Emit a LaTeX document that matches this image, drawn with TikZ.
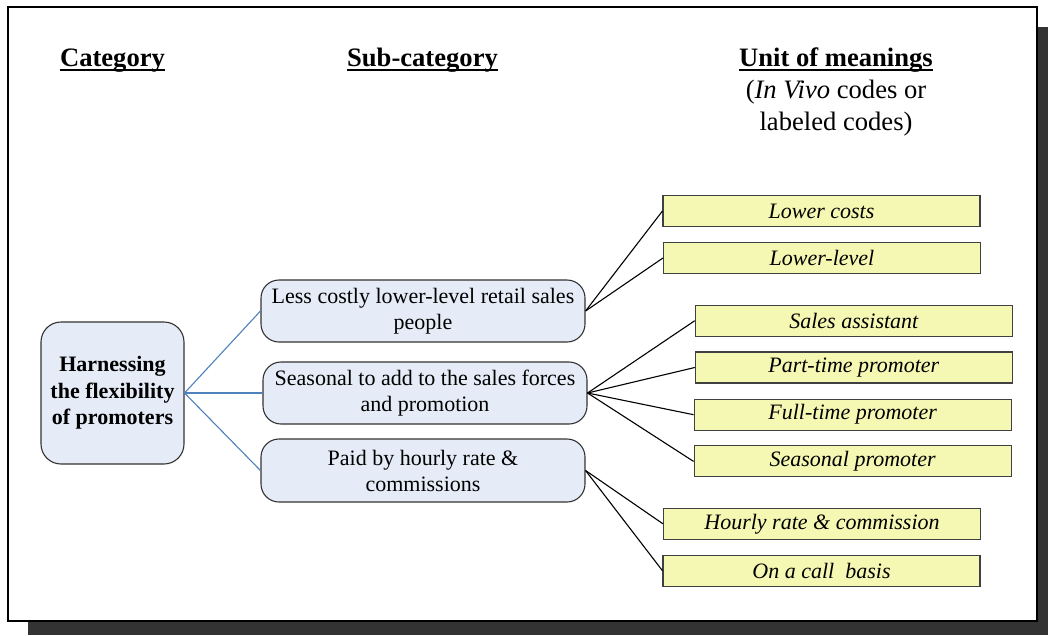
\documentclass[tikz,border=0pt]{standalone}
\usepackage{fontspec}
\setmainfont{Liberation Serif}
\definecolor{catfill}{HTML}{E5ECF7}
\definecolor{unitfill}{HTML}{F4F8B2}
\definecolor{shadowc}{HTML}{333333}
\definecolor{linkblue}{HTML}{4F81BD}
\begin{document}
\begin{tikzpicture}[x=1pt,y=-1pt,
  catbox/.style={draw=black!80, line width=1.1pt, fill=catfill, rounded corners=20pt, align=center, inner sep=0pt, font=\fontsize{22}{26.5}\selectfont\bfseries},
  subbox/.style={draw=black!80, line width=1.1pt, fill=catfill, rounded corners=18pt, align=center, inner sep=0pt, font=\fontsize{22}{26}\selectfont},
  unitbox/.style={draw=black!75, line width=1.1pt, fill=unitfill, inner sep=0pt, minimum width=317pt, minimum height=31pt, font=\fontsize{22}{26}\selectfont\itshape},
  head/.style={inner sep=0pt, anchor=base, font=\fontsize{26.6}{32}\selectfont\bfseries},
  headsub/.style={inner sep=0pt, anchor=base, font=\fontsize{26.6}{32}\selectfont},
  uline/.style={line width=1.8pt},
  bluelink/.style={draw=linkblue, line width=1.1pt},
  blacklink/.style={draw=black, line width=1.1pt}
]
\useasboundingbox (0,0) rectangle (1048,635);
% frame with shadow
\fill[shadowc] (28,27) rectangle (1048,635);
\draw[line width=2pt, fill=white] (8,7) rectangle (1037,621);

% headers
\node[head] (hcat) at (112.5,66) {Category};
\node[head] (hsub) at (422.5,66) {Sub-category};
\node[head] (hunit) at (836,66) {Unit of meanings};
\node[headsub] (hunit2) at (836,98) {(\textit{In Vivo} codes or};
\node[headsub] (hunit3) at (836,130) {labeled codes)};
\foreach \n in {hcat,hsub,hunit}
  \draw[uline] ([yshift=-3.8pt]\n.base west) -- ([yshift=-3.8pt]\n.base east);

% category
\node[catbox, minimum width=143pt, minimum height=142pt] (cat) at (112.5,393) {Harnessing\\the flexibility\\of promoters};

% sub-categories
\node[subbox, minimum width=324pt, minimum height=62pt] (s1) at (423,311) {Less costly lower-level retail sales\\people};
\node[subbox, minimum width=324pt, minimum height=62pt] (s2) at (425,393) {Seasonal to add to the sales forces\\and promotion};
\node[subbox, minimum width=324pt, minimum height=63pt] (s3) at (423,470.5) {Paid by hourly rate \&\\commissions};

% units
\node[unitbox] (u1) at (821.5,211) {Lower costs};
\node[unitbox] (u2) at (822,258) {Lower-level};
\node[unitbox] (u3) at (853.8,320.7) {Sales assistant};
\node[unitbox] (u4) at (853.8,367.5) {Part-time promoter};
\node[unitbox] (u5) at (852.6,414.7) {Full-time promoter};
\node[unitbox] (u6) at (852.6,461.4) {Seasonal promoter};
\node[unitbox] (u7) at (822,523.8) {Hourly rate \& commission};
\node[unitbox] (u8) at (821.5,570.7) {On a call~ basis};

% connectors
\foreach \s in {s1,s2,s3}
  \draw[bluelink] (cat.east) -- (\s.west);
\draw[blacklink] (s1.east) -- (u1.west);
\draw[blacklink] (s1.east) -- (u2.west);
\foreach \u in {u3,u4,u5,u6}
  \draw[blacklink] (s2.east) -- (\u.west);
\draw[blacklink] (s3.east) -- (u7.west);
\draw[blacklink] (s3.east) -- (u8.west);
\end{tikzpicture}
\end{document}
